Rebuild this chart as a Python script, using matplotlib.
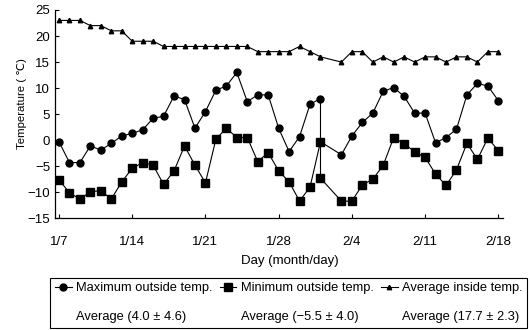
import matplotlib
matplotlib.use('Agg')
from matplotlib import pyplot as plt
from matplotlib.lines import Line2D

plt.rcParams['font.family'] = ['Liberation Sans', 'DejaVu Sans']

## data: days after 1/7 (2/1 is drawn twice, 2/2 is missing)
day = [0, 1, 2, 3, 4, 5, 6, 7, 8, 9, 10, 11, 12, 13, 14, 15, 16, 17, 18,
       19, 20, 21, 22, 23, 24, 25, 25, 27, 28, 29, 30, 31, 32, 33, 34, 35,
       36, 37, 38, 39, 40, 41, 42]
max_out = [-0.3, -4.3, -4.3, -1.1, -1.9, -0.6, 0.8, 1.3, 2.0,
           4.2, 4.6, 8.5, 7.8, 2.3, 5.5, 9.6, 10.4, 13.0, 7.4,
           8.7, 8.7, 2.3, -2.2, 0.7, 6.9, 8.0, -0.3,
           -2.8, 0.8, 3.4, 5.2, 9.4, 10.1, 8.4, 5.2, 5.2,
           -0.5, 0.5, 2.1, 8.7, 10.9, 10.4, 7.6]
min_out = [-7.6, -10.1, -11.3, -9.9, -9.7, -11.3, -8.0, -5.4, -4.3,
           -4.8, -8.5, -5.9, -1.1, -4.8, -8.2, 0.2, 2.3, 0.5, 0.5,
           -4.1, -2.4, -5.9, -8.0, -11.7, -9.0, -0.3, -7.3,
           -11.7, -11.7, -8.6, -7.5, -4.8, 0.5, -0.7, -2.2, -3.3,
           -6.5, -8.7, -5.7, -0.6, -3.7, 0.4, -2.0]
avg_in = [23, 23, 23, 22, 22, 21, 21, 19, 19,
          19, 18, 18, 18, 18, 18, 18, 18, 18, 18,
          17, 17, 17, 17, 18, 17, 16, 16,
          15, 17, 17, 15, 16, 15, 16, 15, 16,
          16, 15, 16, 16, 15, 17, 17]

tick_pos = [0, 7, 14, 21, 28, 35, 42]
tick_lab = ['1/7', '1/14', '1/21', '1/28', '2/4', '2/11', '2/18']
y_ticks = [-15, -10, -5, 0, 5, 10, 15, 20, 25]

series_names = ['Maximum outside temp.', 'Minimum outside temp.',
                'Average inside temp.']
averages = ['Average (4.0 \u00b1 4.6)', 'Average (\u22125.5 \u00b1 4.0)',
            'Average (17.7 \u00b1 2.3)']

## figure
fig = plt.figure(figsize=(5.3, 3.3), dpi=100)
ax = fig.add_axes([0.1038, 0.3385, 0.8453, 0.6312])

l_max, = ax.plot(day, max_out, color='black', lw=0.8, marker='o', ms=5.0)
l_min, = ax.plot(day, min_out, color='black', lw=0.8, marker='s', ms=5.3)
l_in, = ax.plot(day, avg_in, color='black', lw=0.8, marker='^', ms=3.2)

ax.set_xlim(-0.38, 42.45)
ax.set_ylim(-15, 25)
ax.set_xticks(tick_pos)
ax.set_xticklabels(tick_lab)
ax.set_yticks(y_ticks)
ax.tick_params(axis='both', direction='in', length=3, width=0.8,
               labelsize=9.5, color='black')
ax.tick_params(axis='x', pad=13)
ax.tick_params(axis='y', pad=3.5)
for s in ['top', 'right']:
    ax.spines[s].set_visible(False)
for s in ['left', 'bottom']:
    ax.spines[s].set_linewidth(0.9)

ax.set_xlabel('Day (month/day)', fontsize=9.5, va='top')
ax.xaxis.set_label_coords(0.525, -0.178)
ax.set_ylabel('Temperature ( \u2103)', fontsize=8.2)
ax.yaxis.set_label_coords(-0.063, 0.549)

# legend: marker rows plus a row of averages
blank = Line2D([], [], color='none')
handles = [l_max, blank, l_min, blank, l_in, blank]
labels = [series_names[0], averages[0], series_names[1], averages[1],
          series_names[2], averages[2]]
leg = fig.legend(handles, labels, ncol=3, loc='center',
                 bbox_to_anchor=(0.545, 0.083), fontsize=9.3,
                 handlelength=1.3, handletextpad=0.35, columnspacing=0.55,
                 labelspacing=1.3, borderpad=0.35, fancybox=False,
                 edgecolor='black', framealpha=1)
leg.get_frame().set_linewidth(0.8)

fig.savefig('out.png', dpi=100)
